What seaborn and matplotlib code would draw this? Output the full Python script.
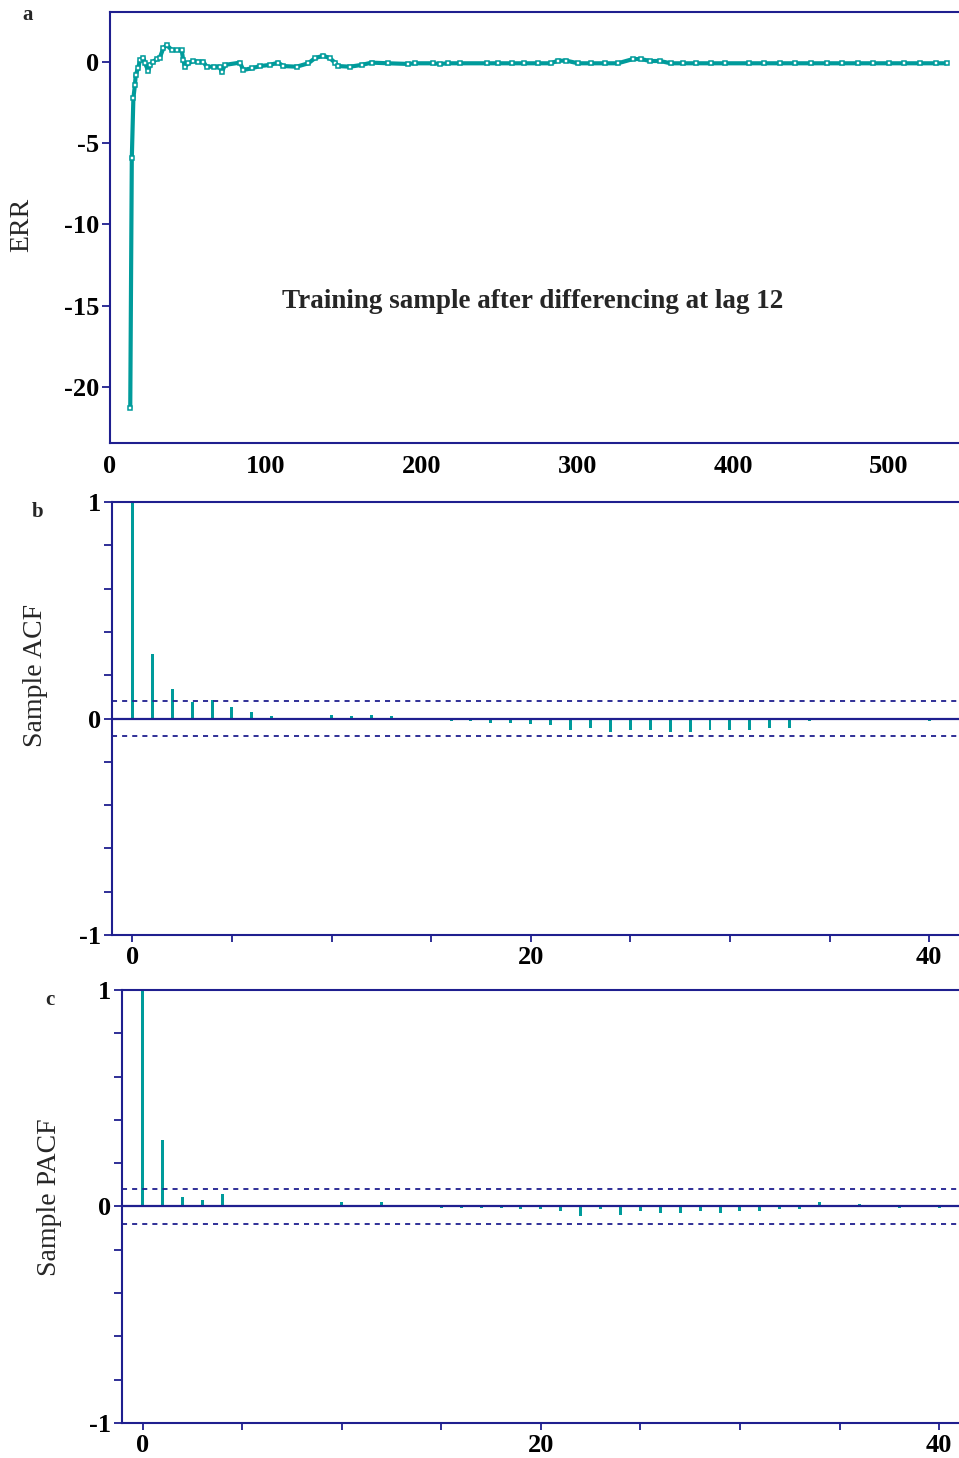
import numpy as np
import pandas as pd
import matplotlib
matplotlib.use("Agg")
import matplotlib.pyplot as plt
import seaborn as sns

# panel a: ERR of the training sample after differencing at lag 12
t_vals = [13, 14, 15, 16, 16.5, 18, 19.3, 21.4, 22.5, 24.6, 25.7, 27.8, 30, 32, 34.2, 36.4,
          39.6, 42.8, 46, 47, 48.1, 50.3, 53.5, 56.7, 59.9, 62, 67, 70.6, 71.7, 73.8, 83.4,
          85.6, 90.9, 96.3, 102.7, 108, 111.2, 119.8, 127.3, 131.5, 136.9, 141.2, 144.4,
          146.5, 154, 161.5, 167.9, 178.6, 191.4, 195.7, 207.5, 211.8, 217.1, 224.6, 241.7,
          249.2, 258, 266, 275, 283, 287.5, 293, 300.4, 309, 318, 326, 335.7, 341, 346.6,
          353, 360, 368, 376, 386, 395, 410, 420, 430, 440, 450, 460, 470, 480, 490, 500,
          510, 520, 530, 537]
err_vals = [-21.3, -5.93, -2.24, -1.42, -0.8, -0.39, 0.12, 0.27, -0.08, -0.55, -0.18, 0.02,
            0.18, 0.27, 0.84, 1.05, 0.74, 0.74, 0.74, 0.12, -0.29, -0.08, 0.06, 0.02, 0.02,
            -0.29, -0.29, -0.29, -0.64, -0.18, -0.04, -0.49, -0.39, -0.25, -0.18, -0.04,
            -0.25, -0.29, -0.08, 0.23, 0.39, 0.23, -0.04, -0.25, -0.29, -0.18, -0.04, -0.08,
            -0.12, -0.08, -0.08, -0.12, -0.08, -0.08, -0.08, -0.08, -0.08, -0.08, -0.08,
            -0.08, 0.08, 0.08, -0.08, -0.08, -0.08, -0.08, 0.18, 0.18, 0.06, 0.06, -0.08,
            -0.08, -0.08, -0.08, -0.08, -0.08, -0.08, -0.08, -0.08, -0.08, -0.08, -0.08,
            -0.08, -0.08, -0.08, -0.08, -0.08, -0.08, -0.08]

# panels b, c: sample ACF / PACF, lags 0..40
lags = list(range(41))
acf_vals = [1.0, 0.30, 0.134, 0.077, 0.085, 0.051, 0.028, 0.01, 0.0, 0.0, 0.017, 0.01, 0.018,
            0.01, 0.0, 0.0, -0.011, -0.01, -0.02, -0.02, -0.027, -0.028, -0.051, -0.046,
            -0.062, -0.052, -0.051, -0.062, -0.062, -0.052, -0.052, -0.052, -0.045, -0.045,
            -0.01, 0.0, 0.0, 0.0, 0.0, 0.0, -0.01]
pacf_vals = [1.0, 0.305, 0.043, 0.028, 0.059, 0.0, 0.0, 0.0, 0.0, 0.0, 0.02, 0.0, 0.02, 0.0,
             0.0, -0.005, -0.005, -0.006, -0.006, -0.01, -0.01, -0.021, -0.044, -0.01, -0.037,
             -0.021, -0.03, -0.028, -0.021, -0.03, -0.021, -0.021, -0.01, -0.01, 0.02, 0.0,
             0.012, 0.0, -0.008, 0.0, -0.008]
conf_bound = 0.082

TEAL = '#009b9b'
NAVY = '#1f1f8f'

sns.set_style("ticks")
plt.rcParams['font.family'] = ['Liberation Serif', 'DejaVu Serif']
plt.rcParams['axes.unicode_minus'] = False

fig = plt.figure(figsize=(9.59, 14.58), dpi=100)


def style_axes(ax):
    for side in ['left', 'top', 'bottom']:
        ax.spines[side].set_color(NAVY)
        ax.spines[side].set_linewidth(1.5)
    ax.spines['right'].set_visible(False)
    ax.tick_params(which='both', direction='out', color=NAVY, width=1.3,
                   labelsize=19, labelcolor='black', top=False, right=False)
    for lab in ax.get_xticklabels() + ax.get_yticklabels():
        lab.set_fontweight('bold')


# ---- panel a
ax_a = fig.add_axes([0.1147, 0.6962, 0.8853, 0.2956])
df_a = pd.DataFrame({'t': t_vals, 'err': err_vals})
sns.lineplot(data=df_a, x='t', y='err', ax=ax_a, color=TEAL, linewidth=3.0,
             marker='s', markersize=3.2, markerfacecolor='white',
             markeredgecolor=TEAL, markeredgewidth=1.1)
ax_a.set_xlim(0, 545)
ax_a.set_ylim(-23.45, 3.08)
ax_a.set_xticks([0, 100, 200, 300, 400, 500])
ax_a.set_yticks([0, -5, -10, -15, -20])
ax_a.set_xlabel('')
ax_a.set_ylabel('')
style_axes(ax_a)
ax_a.tick_params(axis='y', length=6, pad=2)
ax_a.tick_params(axis='x', length=0, pad=9)
ax_a.text(271, -14.77, 'Training sample after differencing at lag 12', ha='center',
          va='center', fontsize=19.5, fontweight='bold')


def corr_panel(rect, values, xmin, xmax):
    ax = fig.add_axes(rect)
    df = pd.DataFrame({'lag': lags, 'r': values})
    sns.barplot(data=df, x='lag', y='r', ax=ax, native_scale=True, width=0.15,
                color=TEAL, errorbar=None, linewidth=0, saturation=1)
    ax.axhline(0, color=NAVY, linewidth=1.6)
    ax.axhline(conf_bound, color=NAVY, linewidth=1.3, linestyle=(0, (2.8, 2.8)))
    ax.axhline(-conf_bound, color=NAVY, linewidth=1.3, linestyle=(0, (2.8, 2.8)))
    ax.set_xlim(xmin, xmax)
    ax.set_ylim(-1, 1)
    ax.set_xticks([0, 20, 40])
    ax.set_xticks([5, 10, 15, 25, 30, 35], minor=True)
    ax.set_yticks([-1, 0, 1])
    ax.set_yticks([-0.8, -0.6, -0.4, -0.2, 0.2, 0.4, 0.6, 0.8], minor=True)
    ax.set_xlabel('')
    ax.set_ylabel('')
    style_axes(ax)
    ax.tick_params(axis='y', which='both', length=6, pad=2)
    ax.tick_params(axis='x', which='both', length=5, pad=3)
    return ax


ax_b = corr_panel([0.1168, 0.3587, 0.8832, 0.2970], acf_vals, -1.02, 41.5)
ax_c = corr_panel([0.1272, 0.0240, 0.8728, 0.2970], pacf_vals, -1.04, 41.0)

# panel letters and axis labels
fig.text(0.029, 0.9897, 'a', fontsize=15, fontweight='bold', ha='center', va='center')
fig.text(0.0396, 0.6488, 'b', fontsize=15, fontweight='bold', ha='center', va='center')
fig.text(0.0521, 0.3141, 'c', fontsize=15, fontweight='bold', ha='center', va='center')
fig.text(0.0229, 0.8457, 'ERR', fontsize=20, rotation=90, ha='center', va='center')
fig.text(0.0365, 0.537, 'Sample ACF', fontsize=20, rotation=90, ha='center', va='center')
fig.text(0.0521, 0.179, 'Sample PACF', fontsize=20, rotation=90, ha='center', va='center')

fig.savefig('out.png', dpi=100)
